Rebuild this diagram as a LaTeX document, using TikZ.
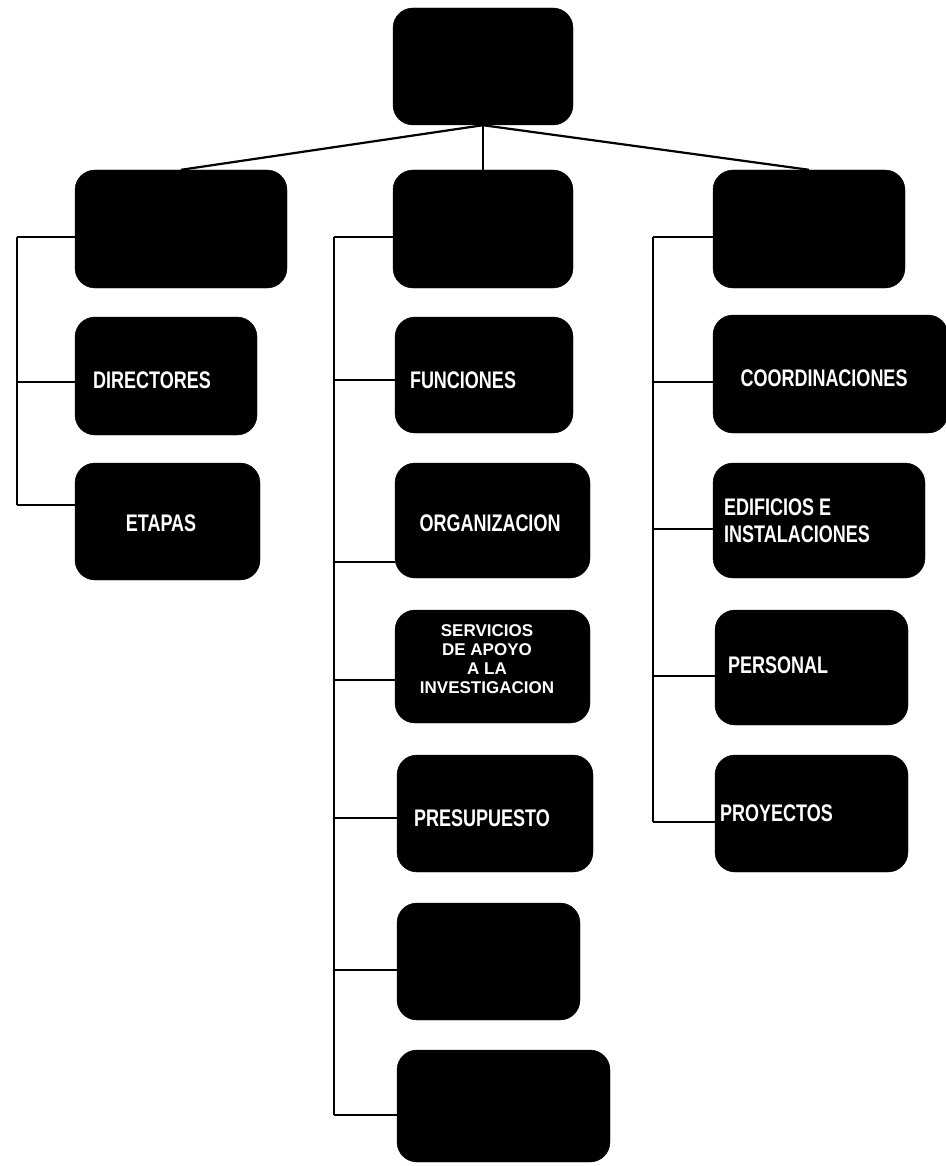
\documentclass[tikz,border=0pt]{standalone}
\usepackage{fontspec}
\setmainfont{Liberation Sans}[FakeStretch=0.75]
\newfontfamily\widesans{Liberation Sans}
\begin{document}
\begin{tikzpicture}[x=1pt,y=-1pt,
  box/.style={fill=black,draw=black,rounded corners=20pt,inner sep=0pt},
  lbl/.style={text=white,font=\bfseries\fontsize{24}{24}\selectfont,inner sep=0pt},
  conn/.style={draw=black,line width=2.2pt}]
\useasboundingbox (0,0) rectangle (945,1166);
\fill[white] (0,0) rectangle (945,1166);
% top
\node[box,minimum width=180pt,minimum height=117pt] (top) at (483,66.5) {};
% level 2
\node[box,minimum width=212pt,minimum height=118pt] (la) at (181,229) {};
\node[box,minimum width=180pt,minimum height=118pt] (ca) at (483,229) {};
\node[box,minimum width=192pt,minimum height=118pt] (ra) at (809,229) {};
% left column
\node[box,minimum width=182pt,minimum height=118pt] (dir) at (166,376) {};
\node[box,minimum width=185pt,minimum height=117pt] (eta) at (167.5,521.5) {};
% center column
\node[box,minimum width=178pt,minimum height=116pt] (fun) at (484,375) {};
\node[box,minimum width=195pt,minimum height=115pt] (org) at (492.5,520.5) {};
\node[box,minimum width=195pt,minimum height=113pt] (ser) at (492.5,666.5) {};
\node[box,minimum width=196pt,minimum height=117pt] (pre) at (495,813.5) {};
\node[box,minimum width=183pt,minimum height=117pt] (ea) at (488.5,961.5) {};
\node[box,minimum width=213pt,minimum height=112pt] (eb) at (503.5,1106) {};
% right column
\node[box,minimum width=235pt,minimum height=118pt] (coo) at (830.5,374) {};
\node[box,minimum width=212pt,minimum height=115pt] (edi) at (819,520.5) {};
\node[box,minimum width=193pt,minimum height=115pt] (per) at (811.5,667.5) {};
\node[box,minimum width=193pt,minimum height=117pt] (pro) at (811.5,813.5) {};
% labels
\node[lbl] (dirtxt) at (152,380) {DIRECTORES};
\node[lbl] (etatxt) at (161,523) {ETAPAS};
\node[lbl] (funtxt) at (463,380) {FUNCIONES};
\node[lbl] (orgtxt) at (490,523) {ORGANIZACION};
\node[lbl,font=\widesans\bfseries\fontsize{17}{19}\selectfont,align=center] (sertxt) at (487,659) {SERVICIOS\\DE APOYO\\A LA\\INVESTIGACION};
\node[lbl] (pretxt) at (482,818) {PRESUPUESTO};
\node[lbl] (cootxt) at (824,378) {COORDINACIONES};
\node[lbl,anchor=west,align=left,font=\bfseries\fontsize{24}{27}\selectfont] (editxt) at (724,521) {EDIFICIOS E\\INSTALACIONES};
\node[lbl,anchor=west] (pertxt) at (728,665) {PERSONAL};
\node[lbl,anchor=west] (protxt) at (720,813) {PROYECTOS};
% top connectors
\draw[conn] (top.south) -- (la.north);
\draw[conn] (top.south) -- (ca.north);
\draw[conn] (top.south) -- (ra.north);
% left trunk
\coordinate (L0) at (17,237);
\coordinate (L1) at (17,382);
\coordinate (L2) at (17,505);
\draw[conn] (L0) -- (L2);
\draw[conn] (L0) -- (L0 -| la.west);
\draw[conn] (L1) -- (L1 -| dir.west);
\draw[conn] (L2) -- (L2 -| eta.west);
% center trunk
\coordinate (C0) at (334,237);
\coordinate (C1) at (334,380);
\coordinate (C2) at (334,562);
\coordinate (C3) at (334,680);
\coordinate (C4) at (334,818);
\coordinate (C5) at (334,970);
\coordinate (C6) at (334,1115);
\draw[conn] (C0) -- (C6);
\draw[conn] (C0) -- (C0 -| ca.west);
\draw[conn] (C1) -- (C1 -| fun.west);
\draw[conn] (C2) -- (C2 -| org.west);
\draw[conn] (C3) -- (C3 -| ser.west);
\draw[conn] (C4) -- (C4 -| pre.west);
\draw[conn] (C5) -- (C5 -| ea.west);
\draw[conn] (C6) -- (C6 -| eb.west);
% right trunk
\coordinate (R0) at (653,237);
\coordinate (R1) at (653,382);
\coordinate (R2) at (653,529);
\coordinate (R3) at (653,676);
\coordinate (R4) at (653,822);
\draw[conn] (R0) -- (R4);
\draw[conn] (R0) -- (R0 -| ra.west);
\draw[conn] (R1) -- (R1 -| coo.west);
\draw[conn] (R2) -- (R2 -| edi.west);
\draw[conn] (R3) -- (R3 -| per.west);
\draw[conn] (R4) -- (R4 -| pro.west);
\end{tikzpicture}
\end{document}
